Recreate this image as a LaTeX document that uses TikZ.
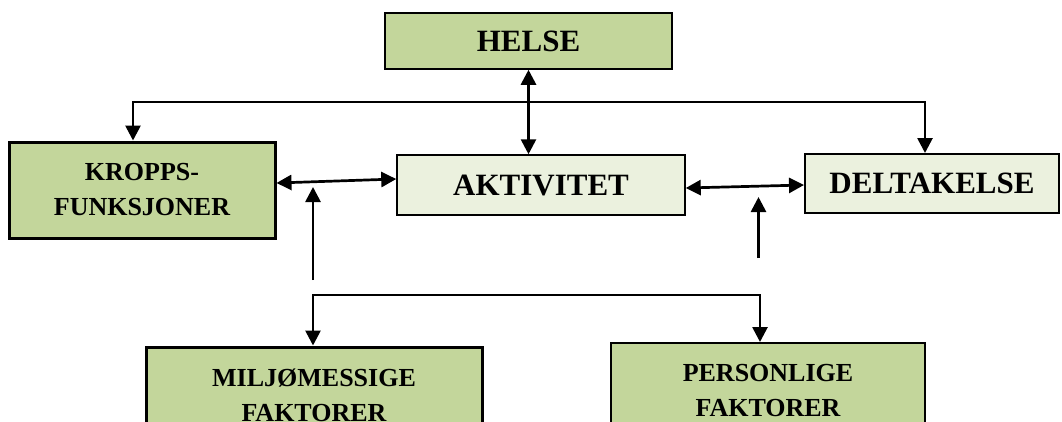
\documentclass[tikz,border=0pt]{standalone}
\usepackage{fontspec}
\setmainfont{Liberation Serif}
\usetikzlibrary{arrows.meta}
\definecolor{dg}{HTML}{C3D69B}
\definecolor{lg}{HTML}{EBF1DE}
\begin{document}
\begin{tikzpicture}[x=1pt,y=-1pt,
  box/.style={draw=black, inner sep=0pt},
  bigtxt/.style={font=\fontsize{31}{35}\selectfont\bfseries},
  smalltxt/.style={font=\fontsize{26}{35}\selectfont\bfseries, align=center},
  con/.style={line width=2.7pt, -{Triangle[length=15pt,width=15pt]}},
  bicon/.style={line width=2.7pt, {Triangle[length=15pt,width=15pt]}-{Triangle[length=15pt,width=15pt]}},
]
\useasboundingbox (0,0) rectangle (1062,421);

\node[box, bigtxt, fill=dg, line width=1.5pt, minimum width=287pt, minimum height=56pt] (helse) at (528.5,41) {HELSE};
\node[box, smalltxt, fill=dg, line width=3pt, minimum width=266pt, minimum height=96pt] (kropps) at (142,190) {KROPPS-\\FUNKSJONER};
\node[box, bigtxt, fill=lg, line width=1.5pt, minimum width=288pt, minimum height=60pt] (akt) at (541,185) {AKTIVITET};
\node[box, bigtxt, fill=lg, line width=2pt, minimum width=254pt, minimum height=59pt] (delt) at (932,183.5) {DELTAKELSE};
\node[box, smalltxt, fill=dg, line width=3pt, minimum width=336pt, minimum height=96pt] (miljo) at (314,395) {MILJØMESSIGE\\FAKTORER};
\node[box, smalltxt, fill=dg, line width=2pt, minimum width=314pt, minimum height=96pt] (pers) at (768,391) {PERSONLIGE\\FAKTORER};

% HELSE <-> AKTIVITET
\draw[bicon] (helse.south) -- (helse.south |- akt.north);

% top distribution line
\coordinate (tl) at (133,102);
\coordinate (tr) at (925,102);
\draw[bicon] (tl |- kropps.north) -- (tl) -- (tr) -- (tr |- delt.north);

% KROPPS <-> AKTIVITET
\draw[bicon] ([yshift=7pt]kropps.east) -- ([yshift=6pt]akt.west);
% AKTIVITET <-> DELTAKELSE
\draw[bicon] ([yshift=-3pt]akt.east) -- ([yshift=-1.5pt]delt.west);

% upward arrows
\coordinate (u1s) at (313,280);
\coordinate (u1e) at (313,187);
\draw[con] (u1s) -- (u1e);
\coordinate (u2s) at (758.5,258);
\coordinate (u2e) at (758.5,197);
\draw[con] (u2s) -- (u2e);

% bottom distribution line
\coordinate (bl) at (313,295);
\coordinate (br) at (760,295);
\draw[bicon] (bl |- miljo.north) -- (bl) -- (br) -- (br |- pers.north);
\end{tikzpicture}
\end{document}
